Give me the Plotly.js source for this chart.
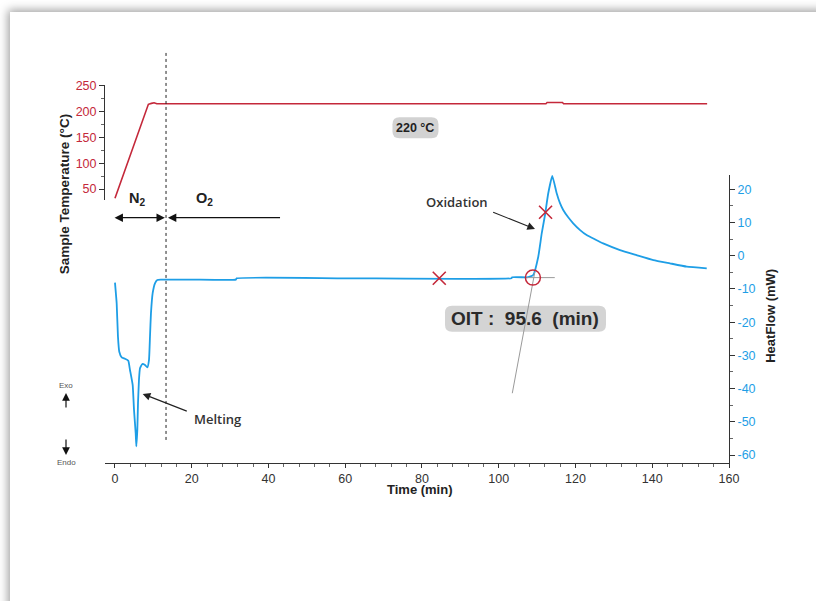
<!DOCTYPE html>
<html>
<head>
<meta charset="utf-8">
<script src="https://cdn.plot.ly/plotly-3.0.1.min.js"></script>
<style>
html,body{margin:0;padding:0;background:#fff;width:816px;height:601px;overflow:hidden;}
#card{position:absolute;left:10px;top:12px;width:840px;height:640px;background:#fff;box-shadow:-2px -2px 9px rgba(0,0,0,0.38);}
#plot{position:absolute;left:0;top:0;width:816px;height:601px;}
</style>
</head>
<body>
<div id="card"></div>
<div id="plot"></div>
<script>
// ---- data ----
var timeHF = [0, 0.44, 0.78, 1.12, 1.75, 2.6, 3.47, 3.91, 4.61, 4.96, 5.4, 5.56, 5.82, 6.0, 6.25, 6.52, 7.12, 7.82, 8.42, 8.86, 9.12, 9.38, 9.82, 10.42, 11.03, 12, 20, 31.5, 31.7, 60, 103.3, 103.5, 107.3, 108.1, 109.0, 110.3, 111.2, 112.05, 112.9, 113.95, 115.1, 115.96, 116.8, 118.1, 119.4, 121.2, 122.9, 125.1, 127.2, 131.6, 135.9, 140.3, 144.6, 149.0, 154.2];
var heatFlow = [-8.1, -14.3, -24.4, -28.9, -30.6, -31.0, -31.6, -34.4, -38.9, -46.4, -53.5, -57.4, -52.5, -44.4, -37.4, -33.9, -32.6, -32.9, -33.6, -31.4, -24.4, -17.3, -11.3, -8.3, -7.3, -7.2, -7.2, -7.2, -6.8, -6.8, -6.8, -6.5, -6.5, -6.3, -5.8, -0.3, 6.7, 12.25, 18.8, 24.0, 18.8, 15.8, 13.75, 11.55, 9.75, 7.7, 6.2, 4.9, 3.7, 1.7, 0.2, -1.3, -2.3, -3.3, -3.8];

var timeT = [0, 8.7, 9.5, 10.2, 10.9, 112.3, 112.6, 116.6, 116.9, 154.3];
var temperature = [32, 214.1, 216.0, 217.2, 215.3, 215.3, 217.6, 217.6, 215.3, 215.3];

var crossTime = [84.5, 112.2];
var crossHF = [-6.8, 13.06];

var switchTime = 13.3;   // N2 -> O2
var oitMinutes = 95.6;
var onsetHF = -6.6;
var baselineTime = [107.3, 114.6];
var baselineHF = [-6.6, -6.6];
var tangentTime = [109.4, 103.53];
var tangentHF = [-4.9, -41.4];

var xTicks = [0, 20, 40, 60, 80, 100, 120, 140, 160];
var hfTicks = [20, 10, 0, -10, -20, -30, -40, -50, -60];
var hfTickText = ["20", "10", "0", "-10", "-20", "-30", "-40", "-50", "-60"];
var tempTicks = [50, 100, 150, 200, 250];

// ---- styles ----
var RED = '#c4283a';
var BLUE = '#1e9ee6';
var AX = '#333333';
var FONT = 'Liberation Sans, Arial, sans-serif';

function roundRect(w, h, r) {
  var a = w / 2, b = h / 2;
  return 'M' + (-a + r) + ',' + (-b) + ' H' + (a - r) + ' Q' + a + ',' + (-b) + ' ' + a + ',' + (-b + r) +
    ' V' + (b - r) + ' Q' + a + ',' + b + ' ' + (a - r) + ',' + b + ' H' + (-a + r) +
    ' Q' + (-a) + ',' + b + ' ' + (-a) + ',' + (b - r) + ' V' + (-b + r) + ' Q' + (-a) + ',' + (-b) + ' ' + (-a + r) + ',' + (-b) + ' Z';
}

var onsetTime = switchTime + oitMinutes;

var traces = [
  {x: timeT, y: temperature, xaxis: 'x', yaxis: 'y2', mode: 'lines',
   line: {color: RED, width: 1.6}, hoverinfo: 'skip'},
  {x: timeHF, y: heatFlow, xaxis: 'x', yaxis: 'y', mode: 'lines',
   line: {color: BLUE, width: 1.8, shape: 'spline', smoothing: 0.4}, hoverinfo: 'skip'},
  {x: baselineTime, y: baselineHF, mode: 'lines', line: {color: '#9a9a9a', width: 1}, hoverinfo: 'skip'},
  {x: tangentTime, y: tangentHF, mode: 'lines', line: {color: '#9a9a9a', width: 1}, hoverinfo: 'skip'},
  {x: crossTime, y: crossHF, mode: 'markers',
   marker: {symbol: 'x-thin-open', size: 13, line: {color: RED, width: 1.6}, color: RED}, hoverinfo: 'skip'},
  {x: [onsetTime], y: [onsetHF], mode: 'markers',
   marker: {symbol: 'circle-open', size: 15, line: {color: RED, width: 1.5}, color: RED}, hoverinfo: 'skip'}
];

function txt(o) { o.xanchor = 'center'; o.yanchor = 'middle'; o.showarrow = false; return o; }

var layout = {
  width: 816, height: 601,
  margin: {l: 105, r: 87, t: 85, b: 138, pad: 0},
  paper_bgcolor: 'rgba(0,0,0,0)',
  plot_bgcolor: 'rgba(0,0,0,0)',
  showlegend: false,
  font: {family: FONT, size: 12.5, color: AX},
  xaxis: {
    range: [-2.6, 160], domain: [0, 1], anchor: 'y',
    showline: true, linecolor: AX, linewidth: 1, showgrid: false, zeroline: false,
    tickmode: 'array', tickvals: xTicks, ticks: 'outside', ticklen: 4, tickcolor: AX,
    tickfont: {family: FONT, size: 12.5, color: '#333'},
    minor: {dtick: 4, tick0: 0, ticks: 'outside', ticklen: 2.5, tickcolor: '#666', showgrid: false}
  },
  yaxis: {
    range: [-62.4, 24.3], domain: [0, 0.762], anchor: 'x', side: 'right',
    showline: true, linecolor: AX, linewidth: 1, showgrid: false, zeroline: false,
    tickmode: 'array', tickvals: hfTicks, ticktext: hfTickText, ticks: 'outside', ticklen: 5, tickcolor: AX,
    tickfont: {family: FONT, size: 12.5, color: BLUE},
    minor: {dtick: 5, tick0: 0, ticks: 'outside', ticklen: 3, tickcolor: '#666', showgrid: false}
  },
  yaxis2: {
    range: [28.9, 251.6], domain: [0.696, 1], anchor: 'x', side: 'left',
    showline: true, linecolor: AX, linewidth: 1, showgrid: false, zeroline: false,
    tickmode: 'array', tickvals: tempTicks, ticks: 'outside', ticklen: 5, tickcolor: AX,
    tickfont: {family: FONT, size: 12.5, color: RED},
    minor: {dtick: 25, tick0: 0, ticks: 'outside', ticklen: 3, tickcolor: '#666', showgrid: false}
  },
  shapes: [
    {type: 'line', xref: 'x', yref: 'paper', x0: switchTime, x1: switchTime, y0: 0.061, y1: 1.085,
     line: {color: '#222', width: 1, dash: 'dot'}},
    {type: 'path', layer: 'below', xref: 'x', yref: 'y2', xsizemode: 'pixel', ysizemode: 'pixel',
     xanchor: 78.3, yanchor: 168.6, path: roundRect(46, 21, 7), fillcolor: '#d2d2d2', line: {width: 0}},
    {type: 'path', layer: 'below', xref: 'x', yref: 'y', xsizemode: 'pixel', ysizemode: 'pixel',
     xanchor: 106.97, yanchor: -19.0, path: roundRect(161, 26, 7), fillcolor: '#d4d4d4', line: {width: 0}}
  ],
  annotations: [
    // axis titles
    txt({text: '<b>Sample Temperature (°C)</b>', xref: 'paper', yref: 'paper', x: -0.0650, y: 0.712,
     textangle: -90, font: {family: FONT, size: 13.5, color: '#222'}}),
    txt({text: '<b>HeatFlow (mW)</b>', xref: 'paper', yref: 'paper', x: 1.067, y: 0.389,
     textangle: -90, font: {family: FONT, size: 13, color: '#222'}}),
    txt({text: '<b>Time (min)</b>', xref: 'paper', yref: 'paper', x: 0.505, y: -0.0714,
     font: {family: FONT, size: 13, color: '#222'}}),
    // exo / endo
    txt({text: 'Exo', xref: 'paper', yref: 'paper', x: -0.0625, y: 0.206,
     font: {family: FONT, size: 8, color: '#555'}}),
    txt({text: 'Endo', xref: 'paper', yref: 'paper', x: -0.0625, y: 0.0026,
     font: {family: FONT, size: 8, color: '#555'}}),
    {text: '', xref: 'paper', yref: 'paper', x: -0.0625, y: 0.185, ax: 0, ay: 16, showarrow: true,
     arrowhead: 2, arrowsize: 1.3, arrowwidth: 1.2, arrowcolor: '#111', standoff: 0},
    {text: '', xref: 'paper', yref: 'paper', x: -0.0625, y: 0.0212, ax: 0, ay: -17, showarrow: true,
     arrowhead: 2, arrowsize: 1.3, arrowwidth: 1.2, arrowcolor: '#111', standoff: 0},
    // N2 / O2
    txt({text: '<b>N<sub>2</sub></b>', xref: 'x', yref: 'y', x: 5.65, y: 17.1,
     font: {family: FONT, size: 14.5, color: '#222'}}),
    txt({text: '<b>O<sub>2</sub></b>', xref: 'x', yref: 'y', x: 23.45, y: 17.1,
     font: {family: FONT, size: 14.5, color: '#222'}}),
    {text: '', xref: 'x', yref: 'y', x: 13.0, y: 11.44, axref: 'x', ayref: 'y', ax: -0.5, ay: 11.44,
     showarrow: true, arrowside: 'end+start', arrowhead: 2, startarrowhead: 2, arrowsize: 1.4, startarrowsize: 1.4,
     arrowwidth: 1.2, arrowcolor: '#111', standoff: 0, startstandoff: 0},
    {text: '', xref: 'x', yref: 'y', x: 13.8, y: 11.44, axref: 'x', ayref: 'y', ax: 43.4, ay: 11.44,
     showarrow: true, arrowhead: 2, arrowsize: 1.4, arrowwidth: 1.2, arrowcolor: '#111', standoff: 0},
    // Melting
    txt({text: 'Melting', xref: 'x', yref: 'y', x: 26.76, y: -49.25,
     font: {family: 'Open Sans, sans-serif', size: 13, color: '#333', weight: 600}}),
    {text: '', xref: 'x', yref: 'y', x: 7.22, y: -41.6, axref: 'x', ayref: 'y', ax: 19.1, ay: -46.96,
     showarrow: true, arrowhead: 2, arrowsize: 1.4, arrowwidth: 1.1, arrowcolor: '#222', standoff: 0},
    // Oxidation
    txt({text: 'Oxidation', xref: 'x', yref: 'y', x: 89.25, y: 16.26,
     font: {family: 'Open Sans, sans-serif', size: 13, color: '#333', weight: 600}}),
    {text: '', xref: 'x', yref: 'y', x: 109.45, y: 8.04, axref: 'x', ayref: 'y', ax: 98.16, ay: 13.25,
     showarrow: true, arrowhead: 2, arrowsize: 1.4, arrowwidth: 1.1, arrowcolor: '#222', standoff: 0},
    // badges
    txt({text: '<b>220 °C</b>', xref: 'x', yref: 'y2', x: 78.3, y: 168.6,
     font: {family: FONT, size: 12.5, color: '#222'}}),
    txt({text: '<b>OIT :\u00a0\u00a095.6\u00a0\u00a0(min)</b>', xref: 'x', yref: 'y', x: 106.97, y: -19.0,
     font: {family: FONT, size: 19, color: '#2a2a2a'}})
  ]
};

Plotly.newPlot('plot', traces, layout, {staticPlot: true, displayModeBar: false});
</script>
</body>
</html>
